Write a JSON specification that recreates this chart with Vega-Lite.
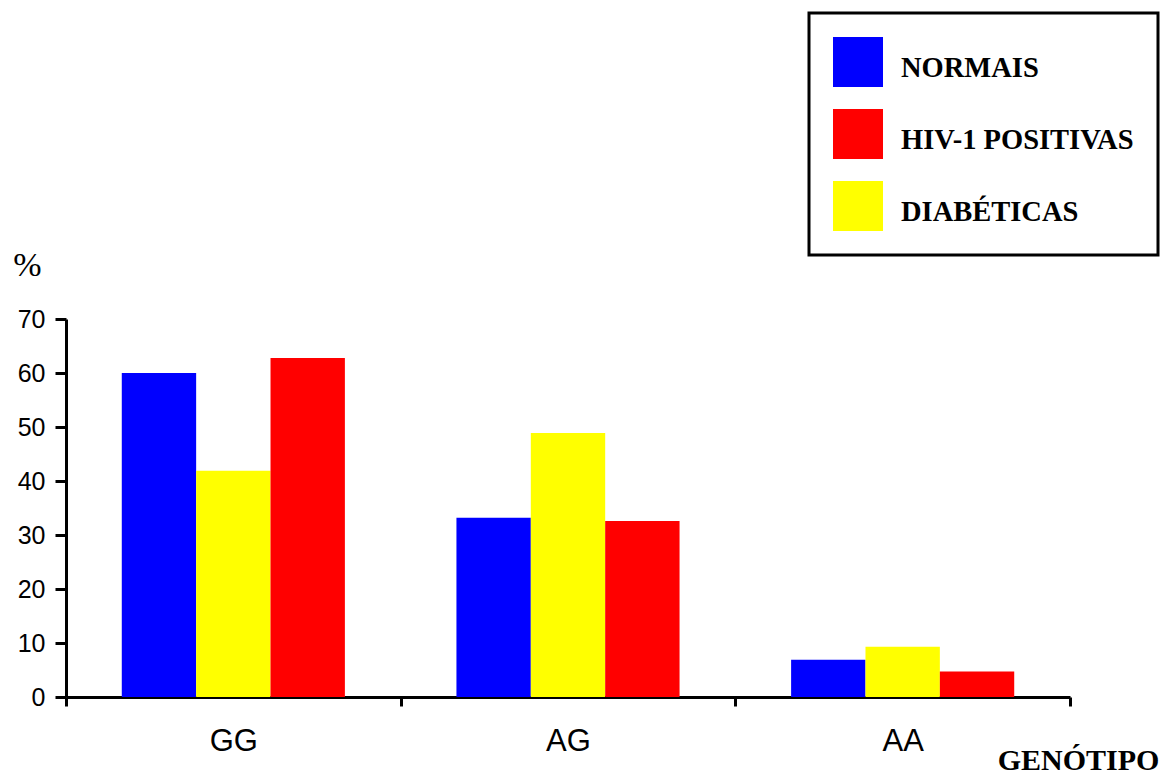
{
  "$schema": "https://vega.github.io/schema/vega-lite/v6.json",
  "autosize": {"type": "none"},
  "width": 1004,
  "height": 378,
  "padding": {"left": 66, "top": 319, "right": 90, "bottom": 81},
  "background": "white",
  "config": {"view": {"stroke": null}, "legend": {"strokeColor": "black", "strokeWidth": 3}},
  "data": {
    "values": [
      {"genotipo": "GG", "grupo": "NORMAIS", "pct": 60.0},
      {"genotipo": "GG", "grupo": "DIABÉTICAS", "pct": 41.9},
      {"genotipo": "GG", "grupo": "HIV-1 POSITIVAS", "pct": 62.8},
      {"genotipo": "AG", "grupo": "NORMAIS", "pct": 33.2},
      {"genotipo": "AG", "grupo": "DIABÉTICAS", "pct": 48.9},
      {"genotipo": "AG", "grupo": "HIV-1 POSITIVAS", "pct": 32.6},
      {"genotipo": "AA", "grupo": "NORMAIS", "pct": 6.9},
      {"genotipo": "AA", "grupo": "DIABÉTICAS", "pct": 9.3},
      {"genotipo": "AA", "grupo": "HIV-1 POSITIVAS", "pct": 4.7}
    ]
  },
  "mark": {"type": "bar"},
  "encoding": {
    "x": {
      "field": "genotipo",
      "type": "nominal",
      "sort": ["GG", "AG", "AA"],
      "scale": {"paddingInner": 0, "paddingOuter": 0},
      "axis": {
        "title": "GENÓTIPO",
        "titleFont": "Liberation Serif",
        "titleFontWeight": "bold",
        "titleFontSize": 30,
        "titleColor": "black",
        "titleX": 1012,
        "titleY": 72,
        "titleAlign": "center",
        "titleBaseline": "alphabetic",
        "labelAngle": 0,
        "labelFont": "Liberation Sans",
        "labelFontSize": 31,
        "labelColor": "black",
        "labelBaseline": "alphabetic",
        "labelPadding": 44,
        "tickBand": "extent",
        "tickSize": 9,
        "tickWidth": 3,
        "tickColor": "black",
        "domainColor": "black",
        "domainWidth": 3
      }
    },
    "xOffset": {
      "field": "grupo",
      "type": "nominal",
      "sort": ["NORMAIS", "DIABÉTICAS", "HIV-1 POSITIVAS"],
      "scale": {"paddingInner": 0, "paddingOuter": 0.75}
    },
    "y": {
      "field": "pct",
      "type": "quantitative",
      "scale": {"domain": [0, 70], "nice": false},
      "axis": {
        "title": "%",
        "titleFont": "Liberation Serif",
        "titleFontWeight": "normal",
        "titleFontSize": 34,
        "titleColor": "black",
        "titleAngle": 0,
        "titleX": -39,
        "titleY": -44,
        "titleAlign": "center",
        "titleBaseline": "alphabetic",
        "values": [0, 10, 20, 30, 40, 50, 60, 70],
        "grid": false,
        "labelFont": "Liberation Sans",
        "labelFontSize": 25,
        "labelColor": "black",
        "labelPadding": 10,
        "tickSize": 11,
        "tickWidth": 3,
        "tickColor": "black",
        "domainColor": "black",
        "domainWidth": 3
      }
    },
    "color": {
      "field": "grupo",
      "type": "nominal",
      "scale": {
        "domain": ["NORMAIS", "HIV-1 POSITIVAS", "DIABÉTICAS"],
        "range": ["#0000FF", "#FF0000", "#FFFF00"]
      },
      "legend": {
        "title": null,
        "orient": "none",
        "legendX": 743,
        "legendY": -306,
        "direction": "vertical",
        "columns": 1,
        "symbolType": "square",
        "symbolSize": 2500,
        "symbolStrokeWidth": 0,
        "symbolOpacity": 1,
        "labelFont": "Liberation Serif",
        "labelFontWeight": "bold",
        "labelFontSize": 28.5,
        "labelColor": "black",
        "labelOffset": 18,
        "labelLimit": 400,
        "rowPadding": 22,
        "padding": 24,
        "strokeColor": "black",
        "fillColor": "white",
        "encode": {"labels": {"update": {"dy": {"value": 6}}}}
      }
    }
  }
}
